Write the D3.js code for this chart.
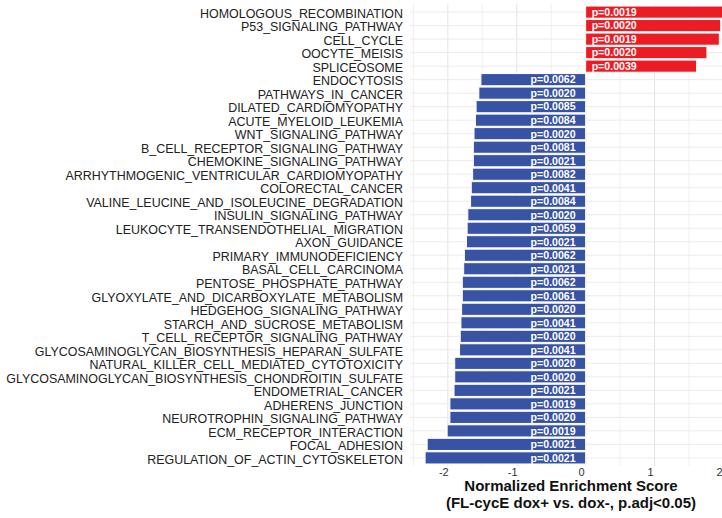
<!DOCTYPE html>
<html>
<head>
<meta charset="utf-8">
<script src="https://cdn.jsdelivr.net/npm/d3@7"></script>
<style>
  html, body { margin: 0; padding: 0; background: #fff; overflow: hidden; }
  svg { display: block; font-family: "Liberation Sans", Arial, sans-serif; }
</style>
</head>
<body>
<svg id="chart" width="722" height="518"></svg>
<script>
// KEGG pathways, top to bottom
const pathways = [
  "HOMOLOGOUS_RECOMBINATION", "P53_SIGNALING_PATHWAY", "CELL_CYCLE", "OOCYTE_MEISIS",
  "SPLICEOSOME", "ENDOCYTOSIS", "PATHWAYS_IN_CANCER", "DILATED_CARDIOMYOPATHY",
  "ACUTE_MYELOID_LEUKEMIA", "WNT_SIGNALING_PATHWAY", "B_CELL_RECEPTOR_SIGNALING_PATHWAY",
  "CHEMOKINE_SIGNALING_PATHWAY", "ARRHYTHMOGENIC_VENTRICULAR_CARDIOMYOPATHY",
  "COLORECTAL_CANCER", "VALINE_LEUCINE_AND_ISOLEUCINE_DEGRADATION",
  "INSULIN_SIGNALING_PATHWAY", "LEUKOCYTE_TRANSENDOTHELIAL_MIGRATION", "AXON_GUIDANCE",
  "PRIMARY_IMMUNODEFICIENCY", "BASAL_CELL_CARCINOMA", "PENTOSE_PHOSPHATE_PATHWAY",
  "GLYOXYLATE_AND_DICARBOXYLATE_METABOLISM", "HEDGEHOG_SIGNALING_PATHWAY",
  "STARCH_AND_SUCROSE_METABOLISM", "T_CELL_RECEPTOR_SIGNALING_PATHWAY",
  "GLYCOSAMINOGLYCAN_BIOSYNTHESIS_HEPARAN_SULFATE", "NATURAL_KILLER_CELL_MEDIATED_CYTOTOXICITY",
  "GLYCOSAMINOGLYCAN_BIOSYNTHESIS_CHONDROITIN_SULFATE", "ENDOMETRIAL_CANCER",
  "ADHERENS_JUNCTION", "NEUROTROPHIN_SIGNALING_PATHWAY", "ECM_RECEPTOR_INTERACTION",
  "FOCAL_ADHESION", "REGULATION_OF_ACTIN_CYTOSKELETON"
];

// Normalized enrichment scores
const nes = [
  2.05, 1.96, 1.94, 1.76, 1.61,
  -1.52, -1.55, -1.59, -1.60, -1.62, -1.63, -1.63, -1.64, -1.66, -1.67,
  -1.71, -1.72, -1.73, -1.76, -1.77, -1.79, -1.79, -1.80, -1.81, -1.82,
  -1.83, -1.90, -1.90, -1.91, -1.97, -1.97, -2.01, -2.30, -2.33
];

// Adjusted p-values shown inside the bars
const pvals = [
  "0.0019", "0.0020", "0.0019", "0.0020", "0.0039",
  "0.0062", "0.0020", "0.0085", "0.0084", "0.0020", "0.0081", "0.0021", "0.0082",
  "0.0041", "0.0084", "0.0020", "0.0059", "0.0021", "0.0062", "0.0021", "0.0062",
  "0.0061", "0.0020", "0.0041", "0.0020", "0.0041", "0.0020", "0.0020", "0.0021",
  "0.0019", "0.0020", "0.0019", "0.0021", "0.0021"
];

const xTicks = [-2, -1, 0, 1, 2];
const xMinor = [-2.5, -1.5, -0.5, 0.5, 1.5];
const axisTitle = ["Normalized Enrichment Score", "(FL-cycE dox+ vs. dox-, p.adj<0.05)"];

const rows = pathways.map((name, i) => ({ name, nes: nes[i], p: pvals[i] }));

const svg = d3.select("#chart");
const panel = { left: 410, right: 742, top: 4, bottom: 466 };

// x domain from the data with a 5% expansion on each side
const lo = d3.min(nes), hi = d3.max(nes), pad = (hi - lo) * 0.05;
const x = d3.scaleLinear().domain([lo - pad, hi + pad]).range([panel.left, panel.right]);
const y = d3.scaleBand().domain(pathways).range([panel.top, panel.bottom])
  .paddingInner(0.1).paddingOuter(0.15);

const grid = svg.append("g");
grid.selectAll("line.minor").data(xMinor).join("line")
  .attr("x1", d => x(d)).attr("x2", d => x(d))
  .attr("y1", panel.top).attr("y2", panel.bottom)
  .attr("stroke", "#f0f0f0").attr("stroke-width", 1);
grid.selectAll("line.major").data(xTicks).join("line")
  .attr("x1", d => x(d)).attr("x2", d => x(d))
  .attr("y1", panel.top).attr("y2", panel.bottom)
  .attr("stroke", "#e3e3e3").attr("stroke-width", 1);
grid.selectAll("line.row").data(pathways).join("line")
  .attr("x1", panel.left).attr("x2", panel.right)
  .attr("y1", d => y(d) + y.bandwidth() / 2).attr("y2", d => y(d) + y.bandwidth() / 2)
  .attr("stroke", "#ebebeb").attr("stroke-width", 1);

// bars
svg.append("g").selectAll("rect").data(rows).join("rect")
  .attr("x", d => x(Math.min(0, d.nes)))
  .attr("width", d => Math.abs(x(d.nes) - x(0)))
  .attr("y", d => y(d.name))
  .attr("height", y.bandwidth())
  .attr("fill", d => d.nes > 0 ? "#ec1c24" : "#3953a4")
  .attr("stroke", "#ffffff").attr("stroke-width", 1);

// p-value labels
svg.append("g").selectAll("text").data(rows).join("text")
  .attr("x", d => d.nes > 0 ? x(0) + 6 : x(0) - 10)
  .attr("y", d => y(d.name) + y.bandwidth() / 2)
  .attr("dy", "0.36em")
  .attr("text-anchor", d => d.nes > 0 ? "start" : "end")
  .attr("fill", "#ffffff")
  .attr("font-weight", "bold")
  .attr("font-size", "10.6px")
  .text(d => "p=" + d.p);

// pathway names
svg.append("g").selectAll("text").data(pathways).join("text")
  .attr("x", panel.left - 7)
  .attr("y", d => y(d) + y.bandwidth() / 2)
  .attr("dy", "0.46em")
  .attr("text-anchor", "end")
  .attr("fill", "#222")
  .attr("font-size", "12.45px")
  .text(d => d);

// x tick labels
svg.append("g").selectAll("text").data(xTicks).join("text")
  .attr("x", d => x(d))
  .attr("dx", -4)
  .attr("y", 476)
  .attr("text-anchor", "middle")
  .attr("fill", "#333")
  .attr("font-size", "11px")
  .text(d => d);

// axis title
svg.append("g").selectAll("text").data(axisTitle).join("text")
  .attr("x", 571)
  .attr("y", (d, i) => 491 + i * 17)
  .attr("text-anchor", "middle")
  .attr("fill", "#111")
  .attr("font-weight", "bold")
  .attr("font-size", "15px")
  .text(d => d);
</script>
</body>
</html>
